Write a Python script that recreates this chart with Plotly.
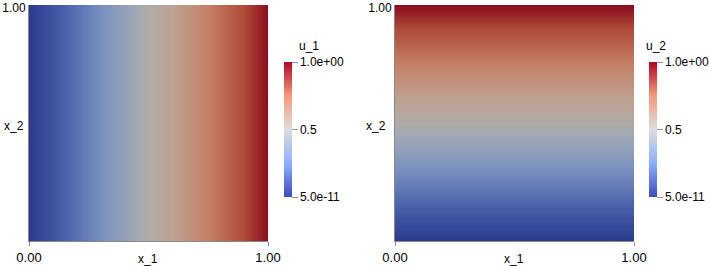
import plotly.graph_objects as go

# nodal coordinates of the unit square and the two solution fields
x1_nodes = [0.0, 1.0]
x2_nodes = [0.0, 1.0]
u1 = [[5e-11, 1.0],
      [5e-11, 1.0]]
u2 = [[5e-11, 5e-11],
      [1.0, 1.0]]

bar_ticks = [5e-11, 0.5, 1.0]
bar_ticktext = ["5.0e-11", "0.5", "1.0e+00"]
axis_ticktext = ["0.00", "1.00"]

# shaded look of the surface vs. the bright colour legend
surface_scale = [
    [0.0, "#2b3a8e"], [0.15, "#4a62aa"], [0.3, "#7890c0"], [0.45, "#a2a9b4"],
    [0.5, "#afaba6"], [0.6, "#bea293"], [0.75, "#c48066"], [0.9, "#ae4a37"],
    [1.0, "#8b0b1f"],
]
legend_scale = [
    [0.0, "#3b4cc0"], [0.25, "#8db0fe"], [0.5, "#dddddd"],
    [0.75, "#f49a7b"], [1.0, "#b40426"],
]

FONT = "Liberation Sans, Arial, sans-serif"
W, H = 709, 266

fig = go.Figure()

panels = [
    (u1, "u_1", "x", "y", 284, 309),
    (u2, "u_2", "x2", "y2", 649, 656),
]

for z, name, xa, ya, bar_x, title_x in panels:
    fig.add_trace(go.Heatmap(
        x=x1_nodes, y=x2_nodes, z=z, zsmooth="best",
        colorscale=surface_scale, zmin=0, zmax=1, showscale=False,
        xaxis=xa, yaxis=ya, hoverinfo="skip",
    ))
    # colour legend
    fig.add_trace(go.Scatter(
        x=[None], y=[None], mode="markers", xaxis=xa, yaxis=ya,
        showlegend=False,
        marker=dict(
            color=[0.5], colorscale=legend_scale, cmin=0, cmax=1, showscale=True,
            colorbar=dict(
                x=bar_x / W, xanchor="left", xpad=0, ypad=0,
                y=(H - 129.5) / H, yanchor="middle",
                len=135 / H, lenmode="fraction",
                thickness=8, thicknessmode="pixels", outlinewidth=0,
                tickvals=bar_ticks, ticktext=bar_ticktext,
                ticks="outside", ticklen=6, tickcolor="#999",
                tickfont=dict(family=FONT, size=12, color="black"),
            ),
        ),
    ))
    fig.add_annotation(text=name, x=title_x / W, y=(H - 46) / H, xref="paper", yref="paper",
                       xanchor="center", yanchor="middle",
                       showarrow=False, font=dict(family=FONT, size=12, color="black"))

axis_common = dict(
    range=[0, 1], showgrid=False, zeroline=False, showline=True, automargin=False,
    linecolor="#888", linewidth=1, ticklabeloverflow="allow",
)
x_extra = dict(ticks="outside", ticklen=4, tickcolor="#888",
               tickfont=dict(family=FONT, size=13, color="black"))
y_extra = dict(ticks="", ticklabelshift=3,
               tickfont=dict(family=FONT, size=12, color="black"))
ydom = [(H - 241) / H, (H - 5) / H]
fig.update_layout(
    width=W, height=H, margin=dict(l=0, r=0, t=0, b=0, autoexpand=False),
    paper_bgcolor="white", plot_bgcolor="white", showlegend=False,
    xaxis=dict(domain=[29 / W, 268 / W], tickvals=[0, 1], ticktext=axis_ticktext,
               **axis_common, **x_extra),
    yaxis=dict(domain=ydom, tickvals=[1], ticktext=["1.00"], anchor="x",
               **axis_common, **y_extra),
    xaxis2=dict(domain=[395 / W, 634 / W], tickvals=[0, 1], ticktext=axis_ticktext, anchor="y2",
                **axis_common, **x_extra),
    yaxis2=dict(domain=ydom, tickvals=[1], ticktext=["1.00"], anchor="x2",
                **axis_common, **y_extra),
)

for lx, ly in [(14, 126), (376, 126)]:
    fig.add_annotation(text="x_2", x=lx / W, y=(H - ly) / H, xref="paper", yref="paper",
                       xanchor="center", yanchor="middle",
                       showarrow=False, font=dict(family=FONT, size=12, color="black"))
for lx in [148, 514]:
    fig.add_annotation(text="x_1", x=lx / W, y=(H - 259) / H, xref="paper", yref="paper",
                       xanchor="center", yanchor="middle",
                       showarrow=False, font=dict(family=FONT, size=12, color="black"))

fig.write_html("out.html", config={"displayModeBar": False},
               post_script="document.body.style.margin='0px';")
